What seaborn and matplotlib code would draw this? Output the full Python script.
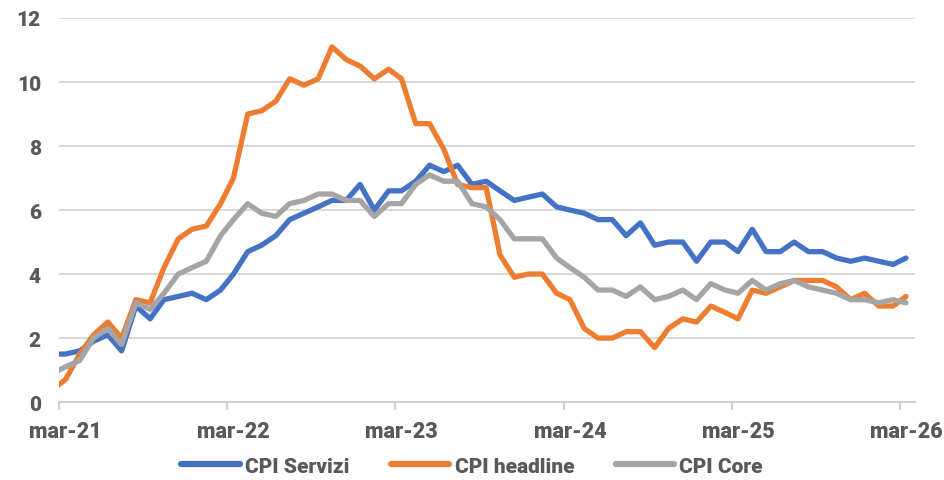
import matplotlib
matplotlib.use("Agg")
import matplotlib.pyplot as plt
import matplotlib.dates as mdates
from matplotlib.lines import Line2D
from matplotlib.ticker import FuncFormatter
import pandas as pd
import seaborn as sns

# monthly data, Feb-21 .. Mar-26 (points dated mid-month)
mesi = pd.date_range("2021-02-01", periods=62, freq="MS") + pd.Timedelta(days=14)

cpi_servizi = [
    1.5,
    1.5, 1.6, 1.9, 2.1, 1.6, 3.0, 2.6, 3.2, 3.3, 3.4,
    3.2, 3.5, 4.0, 4.7, 4.9, 5.2, 5.7, 5.9, 6.1, 6.3, 6.3, 6.8,
    6.0, 6.6, 6.6, 6.9, 7.4, 7.2, 7.4, 6.8, 6.9, 6.6, 6.3, 6.4,
    6.5, 6.1, 6.0, 5.9, 5.7, 5.7, 5.2, 5.6, 4.9, 5.0, 5.0, 4.4,
    5.0, 5.0, 4.7, 5.4, 4.7, 4.7, 5.0, 4.7, 4.7, 4.5, 4.4, 4.5,
    4.4, 4.3, 4.5,
]
cpi_headline = [
    0.4,
    0.7, 1.5, 2.1, 2.5, 2.0, 3.2, 3.1, 4.2, 5.1, 5.4,
    5.5, 6.2, 7.0, 9.0, 9.1, 9.4, 10.1, 9.9, 10.1, 11.1, 10.7, 10.5,
    10.1, 10.4, 10.1, 8.7, 8.7, 7.9, 6.8, 6.7, 6.7, 4.6, 3.9, 4.0,
    4.0, 3.4, 3.2, 2.3, 2.0, 2.0, 2.2, 2.2, 1.7, 2.3, 2.6, 2.5,
    3.0, 2.8, 2.6, 3.5, 3.4, 3.6, 3.8, 3.8, 3.8, 3.6, 3.2, 3.4,
    3.0, 3.0, 3.3,
]
cpi_core = [
    0.9,
    1.1, 1.3, 2.0, 2.3, 1.8, 3.1, 2.9, 3.4, 4.0, 4.2,
    4.4, 5.2, 5.7, 6.2, 5.9, 5.8, 6.2, 6.3, 6.5, 6.5, 6.3, 6.3,
    5.8, 6.2, 6.2, 6.8, 7.1, 6.9, 6.9, 6.2, 6.1, 5.7, 5.1, 5.1,
    5.1, 4.5, 4.2, 3.9, 3.5, 3.5, 3.3, 3.6, 3.2, 3.3, 3.5, 3.2,
    3.7, 3.5, 3.4, 3.8, 3.5, 3.7, 3.8, 3.6, 3.5, 3.4, 3.2, 3.2,
    3.1, 3.2, 3.1,
]

serie = ["CPI Servizi", "CPI headline", "CPI Core"]
colori = ["#4472C4", "#ED7D31", "#A5A5A5"]

df = pd.DataFrame({"data": mesi, "CPI Servizi": cpi_servizi,
                   "CPI headline": cpi_headline, "CPI Core": cpi_core})
long = df.melt(id_vars="data", var_name="serie", value_name="valore")

sns.set_theme(style="white")
plt.rcParams["font.family"] = ["Roboto", "DejaVu Sans"]
testo = "#595959"

fig = plt.figure(figsize=(9.44, 4.81), dpi=100)
ax = fig.add_axes([0.0625, 0.162, 0.9065, 0.7985])

sns.lineplot(data=long, x="data", y="valore", hue="serie", hue_order=serie,
             palette=colori, linewidth=3.8, legend=False, ax=ax)

ax.set_xlim(pd.Timestamp("2021-03-01"), pd.Timestamp("2026-04-03"))
ax.set_ylim(0, 12)
ax.set_yticks(range(0, 13, 2))
ax.yaxis.grid(True, color="#D9D9D9", linewidth=1.4)
ax.set_axisbelow(True)
ax.set_xlabel("")
ax.set_ylabel("")

for s in ["top", "right", "left"]:
    ax.spines[s].set_visible(False)
ax.spines["bottom"].set_color("#D0D0D0")
ax.spines["bottom"].set_linewidth(1.5)

# tick marks at 1 March, labels at mid-March
ax.xaxis.set_major_locator(mdates.MonthLocator(bymonth=3))
ax.xaxis.set_major_formatter(FuncFormatter(lambda x, p: ""))
ax.xaxis.set_minor_locator(mdates.MonthLocator(bymonth=3, bymonthday=15))
ax.xaxis.set_minor_formatter(
    FuncFormatter(lambda x, p: "mar-" + mdates.num2date(x).strftime("%y")))
ax.tick_params(axis="x", which="major", length=6, width=1.5, color="#D0D0D0", bottom=True)
ax.tick_params(axis="x", which="minor", length=0, pad=13, labelsize=15.5,
               labelcolor=testo)
ax.tick_params(axis="y", length=0, pad=13, labelsize=15, labelcolor=testo)
for lab in ax.get_xticklabels(minor=True) + ax.get_yticklabels():
    lab.set_fontweight("black")

handles = [Line2D([], [], color=c, linewidth=4.5) for c in colori]
fig.legend(handles, serie, loc="lower center", bbox_to_anchor=(0.5, -0.03),
           ncol=3, frameon=False, handlelength=2.8, columnspacing=2.0,
           handletextpad=0.25, prop={"weight": "black", "size": 15},
           labelcolor=testo)

fig.savefig("out.png", dpi=100)
